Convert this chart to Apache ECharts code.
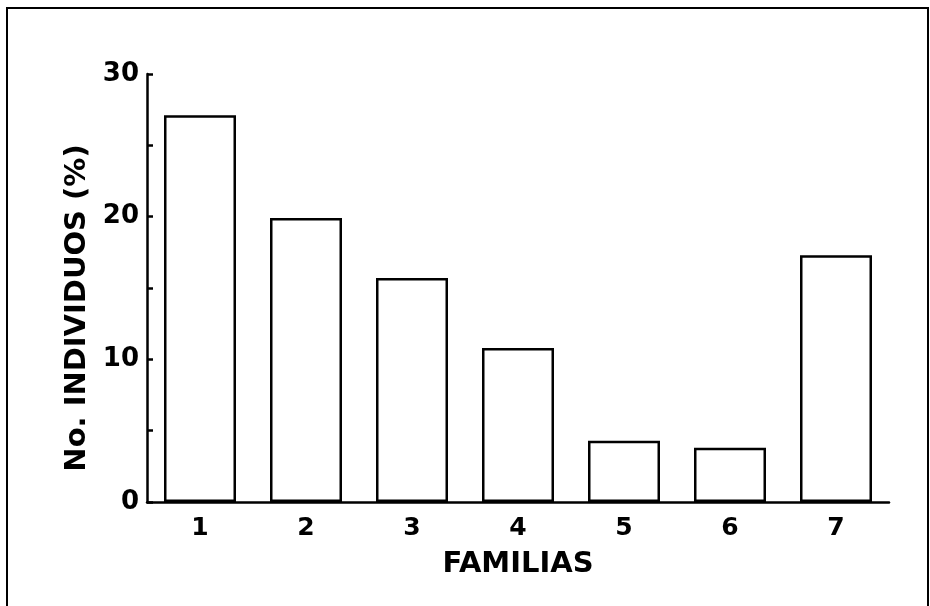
<!DOCTYPE html>
<html>
<head>
<meta charset="utf-8">
<script src="https://cdn.jsdelivr.net/npm/echarts@6/dist/echarts.min.js"></script>
<style>html,body{margin:0;padding:0;background:#fff}#c{width:930px;height:606px}</style>
</head>
<body>
<div id="c"></div>
<script>
const categories = ['1', '2', '3', '4', '5', '6', '7'];
const values = [27.1, 19.9, 15.7, 10.8, 4.3, 3.8, 17.3];
const yTickLabels = [0, 10, 20, 30];
const xAxisTitle = 'FAMILIAS';
const yAxisTitle = 'No. INDIVIDUOS (%)';

const font = 'DejaVu Sans';
const chart = echarts.init(document.getElementById('c'));
chart.setOption({
  backgroundColor: '#fff',
  animation: false,
  grid: { left: 147, right: 41, top: 74, bottom: 104, containLabel: false },
  graphic: [{
    type: 'polyline',
    shape: { points: [[7, 606], [7, 8], [928, 8], [928, 606]] },
    style: { stroke: '#000', lineWidth: 2, fill: null }
  }],
  xAxis: {
    type: 'category',
    data: categories,
    boundaryGap: true,
    name: xAxisTitle,
    nameLocation: 'middle',
    nameGap: 48,
    nameTextStyle: { fontFamily: font, fontSize: 29, fontWeight: 'bold', color: '#000', verticalAlign: 'top' },
    axisLine: { lineStyle: { color: '#000', width: 2.5 } },
    axisTick: { show: false },
    axisLabel: { fontFamily: font, fontSize: 25, fontWeight: 'bold', color: '#000', margin: 14 }
  },
  yAxis: {
    type: 'value',
    min: 0, max: 30, interval: 5,
    name: yAxisTitle,
    nameLocation: 'middle',
    nameGap: 54,
    nameRotate: 90,
    nameTextStyle: { fontFamily: font, fontSize: 29, fontWeight: 'bold', color: '#000', padding: [0, 40, 0, 0] },
    axisLine: { show: true, lineStyle: { color: '#000', width: 2.5 } },
    axisTick: { show: true, inside: true, length: 6, lineStyle: { color: '#000', width: 2.5 } },
    splitLine: { show: false },
    axisLabel: {
      fontFamily: font, fontSize: 26, fontWeight: 'bold', color: '#000', margin: 8,
      formatter: v => yTickLabels.includes(v) ? String(v) : ''
    }
  },
  series: [{
    type: 'bar',
    data: values,
    barWidth: 72,
    itemStyle: { color: '#fff', borderColor: '#000', borderWidth: 2.5 }
  }]
});
</script>
</body>
</html>
